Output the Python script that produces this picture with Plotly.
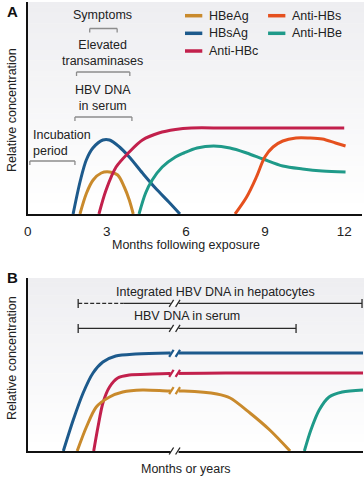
import plotly.graph_objects as go

W, H = 364, 477

# ---------------- Panel A data (months, relative level) ----------------
a_hbeag_x = [1.98, 2.23, 2.48, 2.79, 3.1, 3.41, 3.66, 3.85, 4.0]
a_hbeag_y = [0, 21, 34, 41, 42, 39, 27, 14, 0]
a_hbsag_x = [1.72, 2.0, 2.22, 2.47, 2.85, 3.1, 3.48, 3.85, 4.35, 4.84, 5.35, 5.77]
a_hbsag_y = [0, 34, 54, 66, 74, 74, 67, 57, 41, 26, 12, 0]
a_antihbc_x = [2.7, 2.97, 3.35, 3.85, 4.35, 4.97, 5.6, 6.2, 7.5, 9.5, 12.0]
a_antihbc_y = [0, 24, 47, 62, 74, 81, 84.5, 86, 86, 86, 86]
a_antihbs_x = [7.86, 8.3, 8.67, 8.99, 9.3, 9.67, 10.17, 10.67, 11.17, 11.67, 12.05]
a_antihbs_y = [0, 17, 37, 57, 67, 73, 76, 76, 75, 71, 68]
a_antihbe_x = [4.22, 4.47, 4.72, 5.1, 5.6, 5.92, 6.42, 7.05, 7.67, 8.3, 8.92, 9.67, 10.42, 11.17, 12.05]
a_antihbe_y = [0, 21, 34, 47, 57, 61, 66, 68, 66, 61, 55, 48, 45, 43, 42]
a_ticks = [0, 3, 6, 9, 12]

# ---------------- Panel B data (arbitrary time units, relative level) ----------------
b_hbsag_x = [36, 46, 56, 66, 76, 89, 109, 143, 200, 339]
b_hbsag_y = [0, 31, 58, 78, 89, 95, 97, 98, 98, 98]
b_antihbc_x = [66.7, 71, 76, 82.7, 91, 102.7, 126, 143, 200, 339]
b_antihbc_y = [0, 24, 48, 64, 73, 76, 77, 77.5, 78, 78]
b_hbeag_x = [50, 59.3, 69.3, 82.7, 96, 116, 142.7, 158, 191.3, 204.7, 224.7, 244.7, 265.3]
b_hbeag_y = [0, 24, 44, 54, 59, 61, 60, 60, 57, 53, 38, 21, 0]
b_antihbe_x = [279.7, 286.3, 294.7, 304.7, 318, 339]
b_antihbe_y = [0, 21, 41, 54, 59, 61]

colors = {
    "HBeAg": "#c98a2c",
    "HBsAg": "#1d5a8c",
    "Anti-HBc": "#c2204c",
    "Anti-HBs": "#e5501e",
    "Anti-HBe": "#1f9a89",
}

FONT = "Liberation Sans, Arial, Helvetica, sans-serif"


def P(px, py):
    return px / W, 1 - py / H


fig = go.Figure()

series_a = [
    ("HBsAg", a_hbsag_x, a_hbsag_y),
    ("HBeAg", a_hbeag_x, a_hbeag_y),
    ("Anti-HBc", a_antihbc_x, a_antihbc_y),
    ("Anti-HBe", a_antihbe_x, a_antihbe_y),
    ("Anti-HBs", a_antihbs_x, a_antihbs_y),
]
for name, xs, ys in series_a:
    fig.add_trace(go.Scatter(x=xs, y=ys, mode="lines", name=name, showlegend=False,
                             line=dict(color=colors[name], width=3, shape="spline", smoothing=0.9),
                             xaxis="x", yaxis="y", hoverinfo="skip"))

series_b = [
    ("HBsAg", b_hbsag_x, b_hbsag_y),
    ("Anti-HBc", b_antihbc_x, b_antihbc_y),
    ("HBeAg", b_hbeag_x, b_hbeag_y),
    ("Anti-HBe", b_antihbe_x, b_antihbe_y),
]
for name, xs, ys in series_b:
    fig.add_trace(go.Scatter(x=xs, y=ys, mode="lines", name=name, showlegend=False,
                             line=dict(color=colors[name], width=3, shape="spline", smoothing=0.8),
                             xaxis="x2", yaxis="y2", hoverinfo="skip"))

shapes = []
annotations = []

# gradient backgrounds
def gradient(x0, x1, y0, y1, n=40, top=(238, 238, 241), bot=(255, 255, 255)):
    for i in range(n):
        t = i / (n - 1)
        c = tuple(round(top[k] + (bot[k] - top[k]) * t) for k in range(3))
        ya = y0 + (y1 - y0) * i / n
        yb = y0 + (y1 - y0) * (i + 1) / n + 0.5
        px0, py0 = P(x0, ya)
        px1, py1 = P(x1, yb)
        shapes.append(dict(type="rect", xref="paper", yref="paper", x0=px0, x1=px1, y0=py1, y1=py0,
                           fillcolor="rgb(%d,%d,%d)" % c, line=dict(width=0), layer="below"))

gradient(24, 364, 2, 214)
gradient(24, 364, 278, 451)

# ---- Panel A brackets (data coords) ----
GRAY = "#8c8c8c"
def bracket_a(m0, m1, v, tick=4):
    shapes.append(dict(type="line", xref="x", yref="y", x0=m0, x1=m1, y0=v, y1=v,
                       line=dict(color=GRAY, width=1.3)))
    for m in (m0, m1):
        shapes.append(dict(type="line", xref="x", yref="y", x0=m, x1=m, y0=v, y1=v - tick,
                           line=dict(color=GRAY, width=1.3)))

bracket_a(0.08, 1.79, 53)
bracket_a(1.79, 3.95, 97)
bracket_a(1.85, 3.87, 142)
bracket_a(2.35, 3.39, 185.5)

def txt_a(x, y, s, anchor="center"):
    annotations.append(dict(x=x, y=y, xref="x", yref="y", text=s, showarrow=False,
                            xanchor=anchor, yanchor="middle", align=anchor if anchor != "center" else "center",
                            font=dict(family=FONT, size=12.5, color="#222")))

txt_a(0.13, 71, "Incubation<br>period", anchor="left")
txt_a(2.85, 116, "HBV DNA<br>in serum")
txt_a(2.85, 161, "Elevated<br>transaminases")
txt_a(2.85, 198.5, "Symptoms")

# ---- Legend (manual, panel A) ----
leg = [("HBeAg", 183, 15.7), ("HBsAg", 183, 33.3), ("Anti-HBc", 183, 51),
       ("Anti-HBs", 267, 15.7), ("Anti-HBe", 267, 33.3)]
for name, lx, ly in leg:
    x0, y0 = P(lx, ly)
    x1, _ = P(lx + 17.5, ly)
    shapes.append(dict(type="line", xref="paper", yref="paper", x0=x0, x1=x1, y0=y0, y1=y0,
                       line=dict(color=colors[name], width=3.5)))
    tx, ty = P(lx + 22, ly)
    annotations.append(dict(x=tx, y=ty, xref="paper", yref="paper", text=name, showarrow=False,
                            xanchor="left", yanchor="middle",
                            font=dict(family=FONT, size=12.5, color="#222")))

# ---- Panel B brackets (paper coords from pixels) ----
DARK = "#2a2a2a"
def seg(x0p, y0p, x1p, y1p, color=DARK, width=1.3, dash="solid"):
    a = P(x0p, y0p); b = P(x1p, y1p)
    shapes.append(dict(type="line", xref="paper", yref="paper", x0=a[0], y0=a[1], x1=b[0], y1=b[1],
                       line=dict(color=color, width=width, dash=dash)))

# Integrated HBV DNA
seg(75, 303.3, 121, 303.3, dash="4px,2px")
seg(121, 303.3, 362, 303.3)
seg(75, 299, 75, 308)
seg(362, 299, 362, 308)
# HBV DNA in serum
seg(75, 328.3, 295.3, 328.3)
seg(75, 324, 75, 333)
seg(295.3, 324, 295.3, 333)

for s, cx, cy in [("Integrated HBV DNA in hepatocytes", 213.5, 291.5), ("HBV DNA in serum", 184.7, 315.5)]:
    x, y = P(cx, cy)
    annotations.append(dict(x=x, y=y, xref="paper", yref="paper", text=s, showarrow=False,
                            xanchor="center", yanchor="middle",
                            font=dict(family=FONT, size=12.5, color="#222")))

# break markers
def brk(y, color, width=1.3):
    a = P(168.5, y - 2.6); b = P(176.5, y + 2.6)
    shapes.append(dict(type="rect", xref="paper", yref="paper", x0=a[0], x1=b[0], y0=b[1], y1=a[1],
                       fillcolor="white", line=dict(width=0)))
    seg(167, y + 3.5, 171.5, y - 3.5, color=color, width=width)
    seg(173.5, y + 3.5, 178, y - 3.5, color=color, width=width)

brk(303.3, DARK)
brk(328.3, DARK)
brk(353.3, colors["HBsAg"], 2.2)
brk(373.4, colors["Anti-HBc"], 2.2)
brk(390.6, colors["HBeAg"], 2.2)
brk(451, "#222", 1.3)

# panel letters and axis titles
for s, px, py in [("A", 9, 12), ("B", 9, 277)]:
    x, y = P(px, py)
    annotations.append(dict(x=x, y=y, xref="paper", yref="paper", text="<b>%s</b>" % s, showarrow=False,
                            xanchor="center", yanchor="middle", font=dict(family=FONT, size=15, color="#111")))
for py in (110, 358):
    x, y = P(8, py)
    annotations.append(dict(x=x, y=y, xref="paper", yref="paper", text="Relative concentration",
                            showarrow=False, textangle=-90, xanchor="center", yanchor="middle",
                            font=dict(family=FONT, size=12.5, color="#222")))
for s, px, py in [("Months following exposure", 184, 245), ("Months or years", 184, 469)]:
    x, y = P(px, py)
    annotations.append(dict(x=x, y=y, xref="paper", yref="paper", text=s, showarrow=False,
                            xanchor="center", yanchor="middle", font=dict(family=FONT, size=12.5, color="#222")))

axis_common = dict(showgrid=False, zeroline=False, showline=True, linecolor="#111", linewidth=1.5,
                   fixedrange=True)
ax_x0, _ = P(24, 0)
ax_x1, _ = P(362, 0)
_, ya0 = P(0, 214)
_, ya1 = P(0, 2)
bx1, _ = P(363, 0)
_, yb0 = P(0, 451)
_, yb1 = P(0, 278)

fig.update_layout(
    width=W, height=H,
    margin=dict(l=0, r=0, t=0, b=0),
    paper_bgcolor="white", plot_bgcolor="rgba(0,0,0,0)",
    showlegend=False,
    font=dict(family=FONT, size=12.5, color="#222"),
    xaxis=dict(domain=[ax_x0, ax_x1], range=[0, 338 / 26.667], anchor="y",
               tickvals=a_ticks, ticktext=[str(t) for t in a_ticks], ticks="outside", ticklen=4,
               tickcolor="rgba(0,0,0,0)", tickfont=dict(family=FONT, size=13.5, color="#222"),
               **axis_common),
    yaxis=dict(domain=[ya0, ya1], range=[0, 212], anchor="x", showticklabels=False, ticks="",
               **axis_common),
    xaxis2=dict(domain=[ax_x0, bx1], range=[0, 339], anchor="y2", showticklabels=False, ticks="",
                **axis_common),
    yaxis2=dict(domain=[yb0, yb1], range=[0, 173], anchor="x2", showticklabels=False, ticks="",
                **axis_common),
    shapes=shapes,
    annotations=annotations,
)

fig.write_html("out.html", config={"displayModeBar": False},
               post_script="document.body.style.margin='0';document.body.style.overflow='hidden';")
